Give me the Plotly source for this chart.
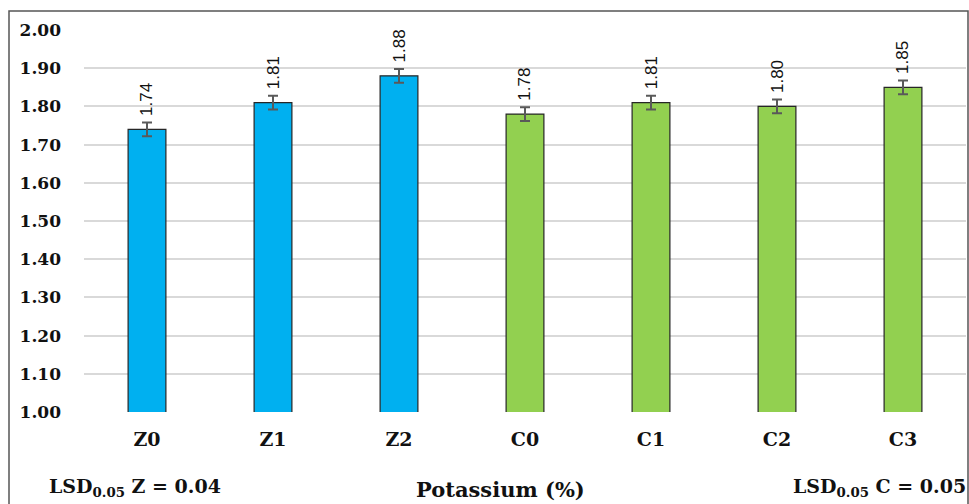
import plotly.graph_objects as go

categories = ["Z0", "Z1", "Z2", "C0", "C1", "C2", "C3"]
values = [1.74, 1.81, 1.88, 1.78, 1.81, 1.80, 1.85]
errors = [0.018, 0.018, 0.018, 0.018, 0.018, 0.018, 0.018]
colors = ["#00B0F0"] * 3 + ["#92D050"] * 4
y_ticks = [1.00, 1.10, 1.20, 1.30, 1.40, 1.50, 1.60, 1.70, 1.80, 1.90, 2.00]

W, H = 969, 504
L, R, T, B = 84, 3, 30, 92
pw, ph = W - L - R, H - T - B
def px(x): return (x - L) / pw
def py(y): return (H - B - y) / ph

serif = "DejaVu Serif"

fig = go.Figure()
fig.add_trace(go.Bar(
    x=categories, y=values, width=0.3,
    marker=dict(color=colors, line=dict(color="#262626", width=1.2)),
    error_y=dict(type="data", array=errors, color="#595959", thickness=2, width=5),
))

for c, v, e in zip(categories, values, errors):
    fig.add_annotation(x=c, y=v + e, text=f"{v:.2f}", textangle=-90,
                       showarrow=False, yanchor="bottom", yshift=4,
                       font=dict(family="Liberation Sans", size=17, color="#111"))

fig.add_annotation(x=px(500), y=py(489), xref="paper", yref="paper",
                   xanchor="center", yanchor="middle",
                   text="<b>Potassium (%)</b>", showarrow=False,
                   font=dict(family=serif, size=21, color="#111"))
fig.add_annotation(x=px(47), y=py(488), xref="paper", yref="paper",
                   xanchor="left", yanchor="middle",
                   text="<b>LSD<sub>0.05</sub> Z = 0.04</b>", showarrow=False,
                   font=dict(family=serif, size=19, color="#111"))
fig.add_annotation(x=px(968), y=py(488), xref="paper", yref="paper",
                   xanchor="right", yanchor="middle",
                   text="<b>LSD<sub>0.05</sub> C = 0.05</b>", showarrow=False,
                   font=dict(family=serif, size=19, color="#111"))

fig.add_shape(type="rect", xref="paper", yref="paper",
              x0=px(9), x1=px(968), y0=py(510), y1=py(11),
              line=dict(color="#555", width=1.5), fillcolor="rgba(0,0,0,0)")

fig.update_layout(
    width=W, height=H, margin=dict(l=L, r=R, t=T, b=B),
    plot_bgcolor="white", paper_bgcolor="white", showlegend=False,
    xaxis=dict(type="category", showgrid=False, showline=False, ticks="",
               tickvals=categories, ticktext=[f"<b>{c}</b>" for c in categories],
               tickfont=dict(family=serif, size=19, color="#111"),
               ticklabelstandoff=14),
    yaxis=dict(range=[1.0, 2.0], tickvals=y_ticks,
               ticktext=[f"<b>{t:.2f}</b>" for t in y_ticks],
               showgrid=True, gridcolor="#d9d9d9", gridwidth=1.5,
               zeroline=False, showline=False, ticks="",
               tickfont=dict(family=serif, size=17, color="#111"),
               ticklabelstandoff=22),
)

fig.write_html("out.html", config={"displayModeBar": False},
               post_script="document.body.style.margin='0';")
